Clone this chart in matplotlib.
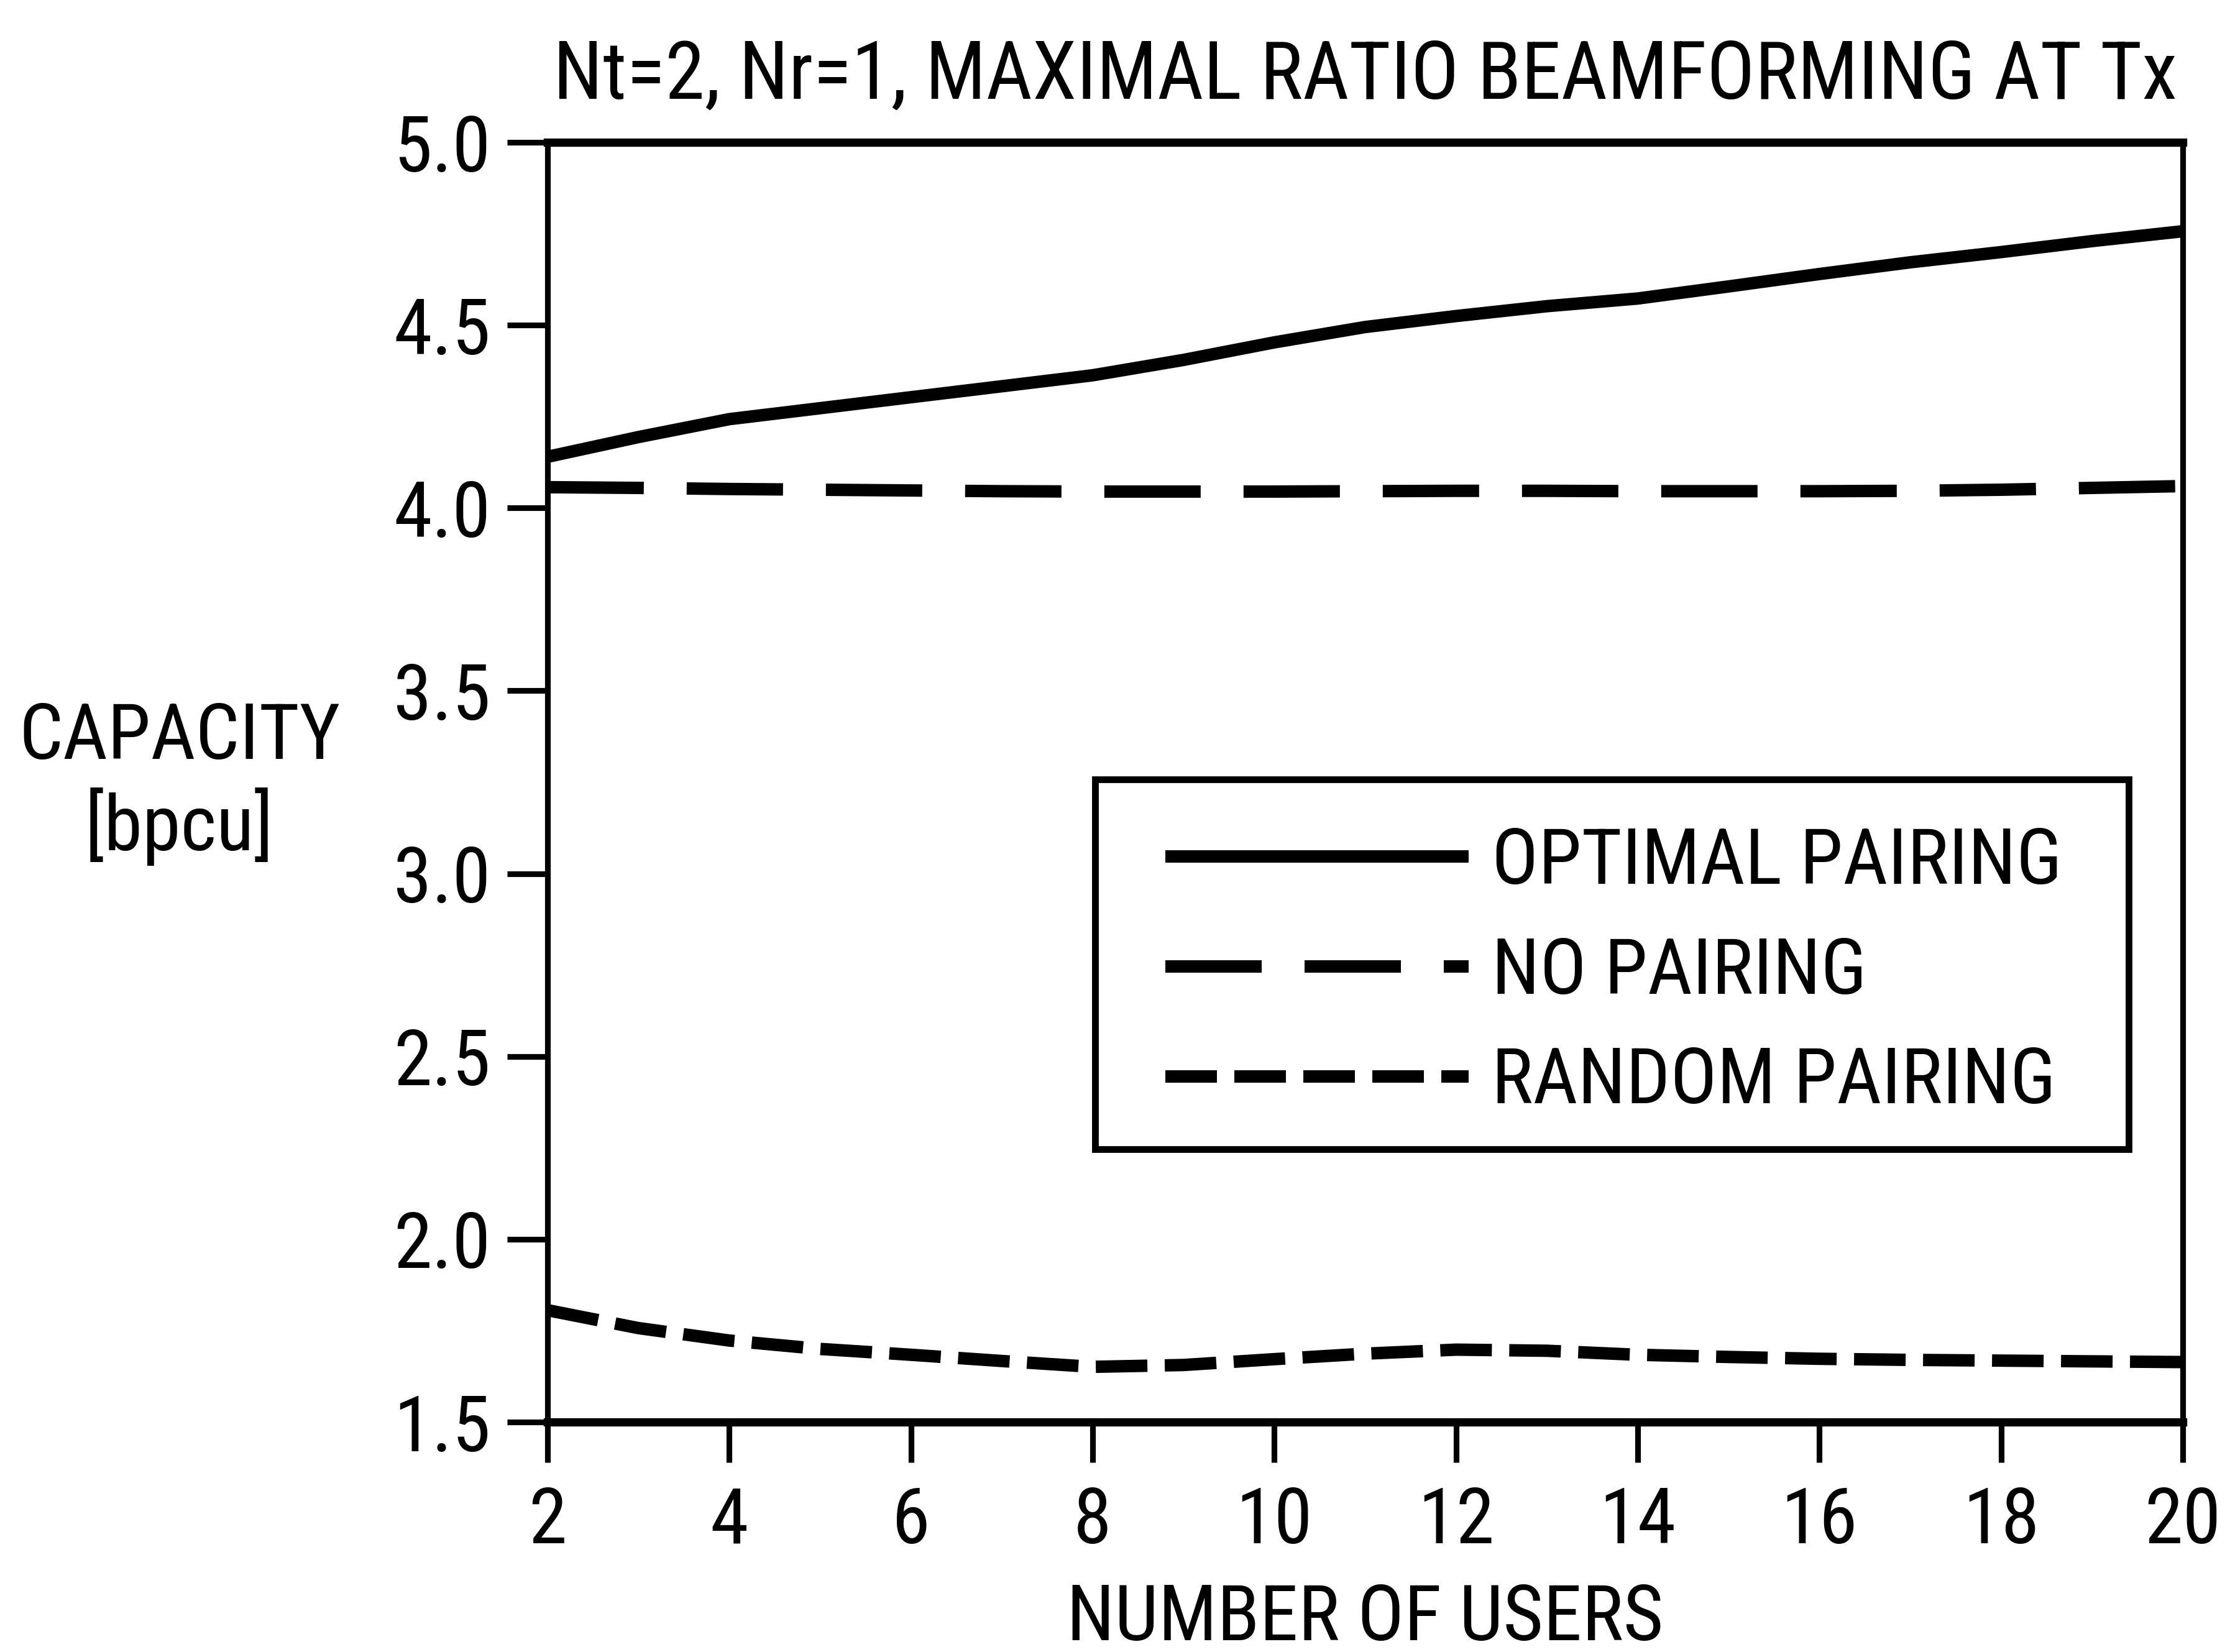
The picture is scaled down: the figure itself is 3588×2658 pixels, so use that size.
import matplotlib
matplotlib.use("Agg")
import matplotlib.pyplot as plt
from matplotlib import font_manager as fm
from matplotlib.patches import Rectangle

names = {f.name for f in fm.fontManager.ttflist}
FONT = 'DejaVu Sans'
for cand in ['Roboto Condensed', 'Archivo Narrow', 'PT Sans Narrow', 'Liberation Sans Narrow',
             'Fira Sans Condensed', 'Barlow Semi Condensed', 'Asap Condensed', 'Liberation Sans']:
    if cand in names:
        FONT = cand
        break
plt.rcParams['font.family'] = [FONT, 'DejaVu Sans']

users = [2, 3, 4, 5, 6, 7, 8, 9, 10, 11, 12, 13, 14, 15, 16, 17, 18, 19, 20]
optimal = [4.14, 4.194, 4.243, 4.273, 4.303, 4.333, 4.363, 4.405, 4.453, 4.495,
           4.525, 4.552, 4.573, 4.606, 4.64, 4.672, 4.70, 4.73, 4.757]
no_pairing = [4.057, 4.055, 4.052, 4.05, 4.048, 4.046, 4.045, 4.045, 4.045, 4.046,
              4.047, 4.047, 4.046, 4.046, 4.046, 4.047, 4.05, 4.055, 4.06]
random_pairing = [1.806, 1.757, 1.723, 1.70, 1.684, 1.667, 1.651, 1.656, 1.672, 1.687,
                  1.698, 1.695, 1.684, 1.678, 1.673, 1.670, 1.668, 1.666, 1.664]
labels = ['OPTIMAL PAIRING', 'NO PAIRING', 'RANDOM PAIRING']
xticks = [2, 4, 6, 8, 10, 12, 14, 16, 18, 20]
yticks = [1.5, 2.0, 2.5, 3.0, 3.5, 4.0, 4.5, 5.0]
title = 'Nt=2, Nr=1, MAXIMAL RATIO BEAMFORMING AT Tx'

fig = plt.figure(figsize=(3588 / 300, 2658 / 300), dpi=300)
ax = fig.add_axes([0.2455, 0.1392, 0.9788 - 0.2455, 0.9138 - 0.1392])

lw = 4.8
ax.plot(users, optimal, color='black', lw=lw, solid_capstyle='butt', label=labels[0])
ax.plot(users, no_pairing, color='black', lw=lw, dashes=(7.75, 3.45), dash_capstyle='butt', label=labels[1])
ax.plot(users, random_pairing, color='black', lw=lw, dashes=(4.15, 1.4), dash_capstyle='butt', label=labels[2])

ax.set_xlim(2, 20)
ax.set_ylim(1.5, 5.0)
ax.set_xticks(xticks)
ax.set_yticks(yticks)
ax.set_yticklabels([f'{v:.1f}' for v in yticks])
ax.tick_params(axis='both', direction='out', length=15.5, width=2.2, labelsize=30, color='black')
ax.tick_params(axis='x', pad=9)
ax.tick_params(axis='y', pad=6.5)

for side in ['left', 'right']:
    ax.spines[side].set_linewidth(2.2)
for side in ['top', 'bottom']:
    ax.spines[side].set_linewidth(3.2)

ax.set_title(title, fontsize=31, pad=17)
ax.set_xlabel('NUMBER OF USERS', fontsize=30, labelpad=9)
ax.text(-0.225, 0.499, 'CAPACITY\n[bpcu]', transform=ax.transAxes, fontsize=30,
        ha='center', va='center', linespacing=1.21)

# legend frame drawn as a separate box so the entries can sit where the reference has them
box = Rectangle((0.335, 0.213), 0.632, 0.289, transform=ax.transAxes, facecolor='white',
                edgecolor='black', linewidth=2.6, zorder=4)
ax.add_patch(box)
leg = ax.legend(loc='upper left', bbox_to_anchor=(0.378, 0.4658),
                fontsize=30, frameon=False,
                handlelength=3.9, handletextpad=0.3, labelspacing=0.47, borderpad=0,
                borderaxespad=0)
leg.set_zorder(5)

fig.savefig('out.png', dpi=300)
